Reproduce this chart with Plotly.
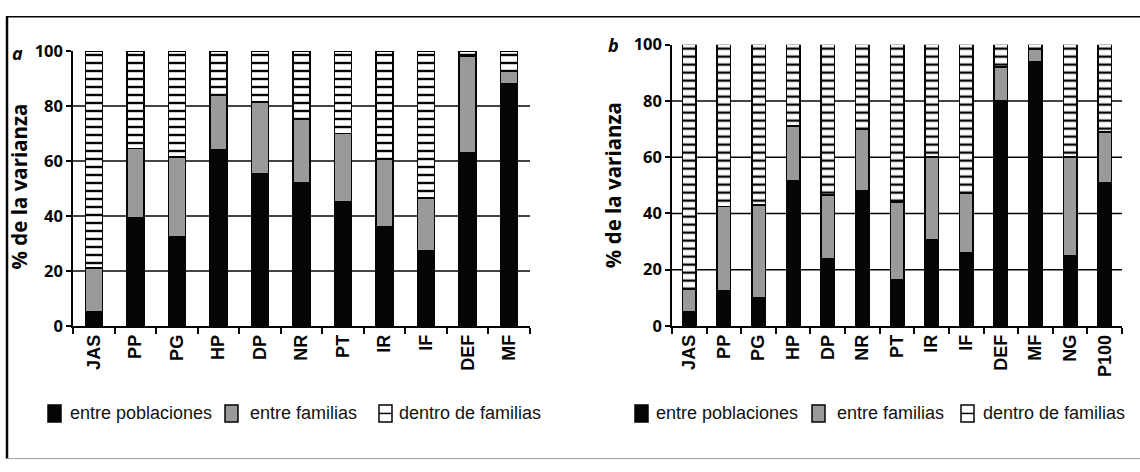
import plotly.graph_objects as go

# Panel a: traits measured in panel a
cats_a = ["JAS", "PP", "PG", "HP", "DP", "NR", "PT", "IR", "IF", "DEF", "MF"]
pob_a = [5, 39.5, 32.5, 64, 55.5, 52, 45, 36, 27.5, 63, 88]
fam_a = [16, 25, 29, 20, 26, 23, 25, 24.5, 19, 35, 4.5]
dentro_a = [79, 35.5, 38.5, 16, 18.5, 25, 30, 39.5, 53.5, 2, 7.5]

# Panel b
cats_b = ["JAS", "PP", "PG", "HP", "DP", "NR", "PT", "IR", "IF", "DEF", "MF", "NG", "P100"]
pob_b = [5, 12.5, 10, 51.5, 24, 48, 16.5, 30.5, 26, 80, 94, 25, 51]
fam_b = [8, 30, 33, 19.5, 22.5, 22, 27.5, 29.5, 21, 12, 4.5, 35, 18]
dentro_b = [87, 57.5, 57, 29, 53.5, 30, 56, 40, 53, 8, 1.5, 40, 31]

series_names = ["entre poblaciones", "entre familias", "dentro de familias"]
y_ticks = [0, 20, 40, 60, 80, 100]
grid_vals = [20, 40, 60, 80]

W, H = 1140, 472
BLACK = "#050505"
GRAY = "#9a9a9a"


def px(x):
    return x / W


def py(y):
    return 1 - y / H


fig = go.Figure()


def add_panel(cats, pob, fam, dentro, xa, ya, bar_w):
    line = dict(color=BLACK, width=1.5)
    fig.add_trace(go.Bar(x=cats, y=pob, name=series_names[0], width=bar_w,
                         marker=dict(color=BLACK, line=line),
                         xaxis=xa, yaxis=ya, showlegend=False))
    fig.add_trace(go.Bar(x=cats, y=fam, name=series_names[1], width=bar_w,
                         marker=dict(color=GRAY, line=line),
                         xaxis=xa, yaxis=ya, showlegend=False))
    fig.add_trace(go.Bar(x=cats, y=dentro, name=series_names[2], width=bar_w,
                         marker=dict(color="white", line=line,
                                     pattern=dict(shape="-", size=8, solidity=0.3,
                                                  fgcolor=BLACK, bgcolor="white",
                                                  fillmode="replace")),
                         xaxis=xa, yaxis=ya, showlegend=False))


add_panel(cats_a, pob_a, fam_a, dentro_a, "x", "y", 0.41)
add_panel(cats_b, pob_b, fam_b, dentro_b, "x2", "y2", 0.39)

xaxis_common = dict(
    type="category", showline=True, linecolor=BLACK, linewidth=1.5,
    ticks="outside", ticklen=6, tickwidth=1.5, tickcolor=BLACK,
    tickson="boundaries", tickangle=-90, showgrid=False,
    tickfont=dict(family="Liberation Sans", size=18, color=BLACK, weight="bold"),
)
yaxis_common = dict(
    range=[0, 100], tickvals=y_ticks, showline=True, linecolor=BLACK, linewidth=1.5,
    ticks="outside", ticklen=5, tickwidth=1.5, tickcolor=BLACK, showgrid=False,
    zeroline=False,
    tickfont=dict(family="Open Sans", size=16.5, color=BLACK, weight="bold"),
)

fig.update_layout(
    width=W, height=H, margin=dict(l=0, r=0, t=0, b=0),
    paper_bgcolor="white", plot_bgcolor="white", barmode="stack",
    xaxis=dict(domain=[px(73), px(530)], anchor="y", **xaxis_common),
    yaxis=dict(domain=[py(330), py(41)], anchor="x", **yaxis_common),
    xaxis2=dict(domain=[px(672), px(1122)], anchor="y2", **xaxis_common),
    yaxis2=dict(domain=[py(330), py(34.3)], anchor="x2", **yaxis_common),
)

shapes = []
# horizontal gridlines behind the bars
for xr, yr in (("x domain", "y"), ("x2 domain", "y2")):
    for v in grid_vals:
        shapes.append(dict(type="line", xref=xr, yref=yr, x0=0, x1=1, y0=v, y1=v,
                           line=dict(color=BLACK, width=1.5), layer="below"))

# outer frame
shapes.append(dict(type="line", xref="paper", yref="paper", x0=px(6), x1=1,
                   y0=py(5), y1=py(5), line=dict(color=BLACK, width=1.5)))
shapes.append(dict(type="line", xref="paper", yref="paper", x0=px(7), x1=px(7),
                   y0=py(5), y1=py(470), line=dict(color=BLACK, width=2.5)))
shapes.append(dict(type="line", xref="paper", yref="paper", x0=px(6), x1=1,
                   y0=py(469.5), y1=py(469.5), line=dict(color="#9c9c9c", width=1)))

annotations = []

# legends drawn beneath each panel
LEG_Y = 422
SW_H = 18
legend_layout = [
    ([48, 225, 379], [68, 248, 397]),
    ([635, 812, 961], [654, 835, 981]),
]
for sw_x, txt_x in legend_layout:
    for i, name in enumerate(series_names):
        x0 = sw_x[i]
        x1 = x0 + 13
        fill = [BLACK, GRAY, "white"][i]
        shapes.append(dict(type="rect", xref="paper", yref="paper",
                           x0=px(x0), x1=px(x1), y0=py(LEG_Y - SW_H / 2), y1=py(LEG_Y + SW_H / 2),
                           fillcolor=fill, line=dict(color=BLACK, width=1.5)))
        if i == 2:
            shapes.append(dict(type="line", xref="paper", yref="paper",
                               x0=px(x0), x1=px(x1), y0=py(LEG_Y), y1=py(LEG_Y),
                               line=dict(color=BLACK, width=1.5)))
        annotations.append(dict(text=name, xref="paper", yref="paper",
                                x=px(txt_x[i]), y=py(LEG_Y), xanchor="left", yanchor="middle",
                                showarrow=False,
                                font=dict(family="Liberation Sans", size=18, color="#111111")))

# axis titles and panel letters
for xc, yc in ((19.5, 184), (613, 182)):
    annotations.append(dict(text="% de la varianza", xref="paper", yref="paper",
                            x=px(xc), y=py(yc), xanchor="center", yanchor="middle",
                            textangle=-90, showarrow=False,
                            font=dict(family="Open Sans", size=20.5, color=BLACK, weight="bold")))
for letter, xc, yc in (("a", 17, 43), ("b", 613, 35)):
    annotations.append(dict(text=letter, xref="paper", yref="paper",
                            x=px(xc), y=py(yc), xanchor="center", yanchor="middle",
                            showarrow=False,
                            font=dict(family="Open Sans", size=18, color=BLACK,
                                      weight="bold", style="italic")))

fig.update_layout(shapes=shapes, annotations=annotations)

fig.write_html("out.html")
